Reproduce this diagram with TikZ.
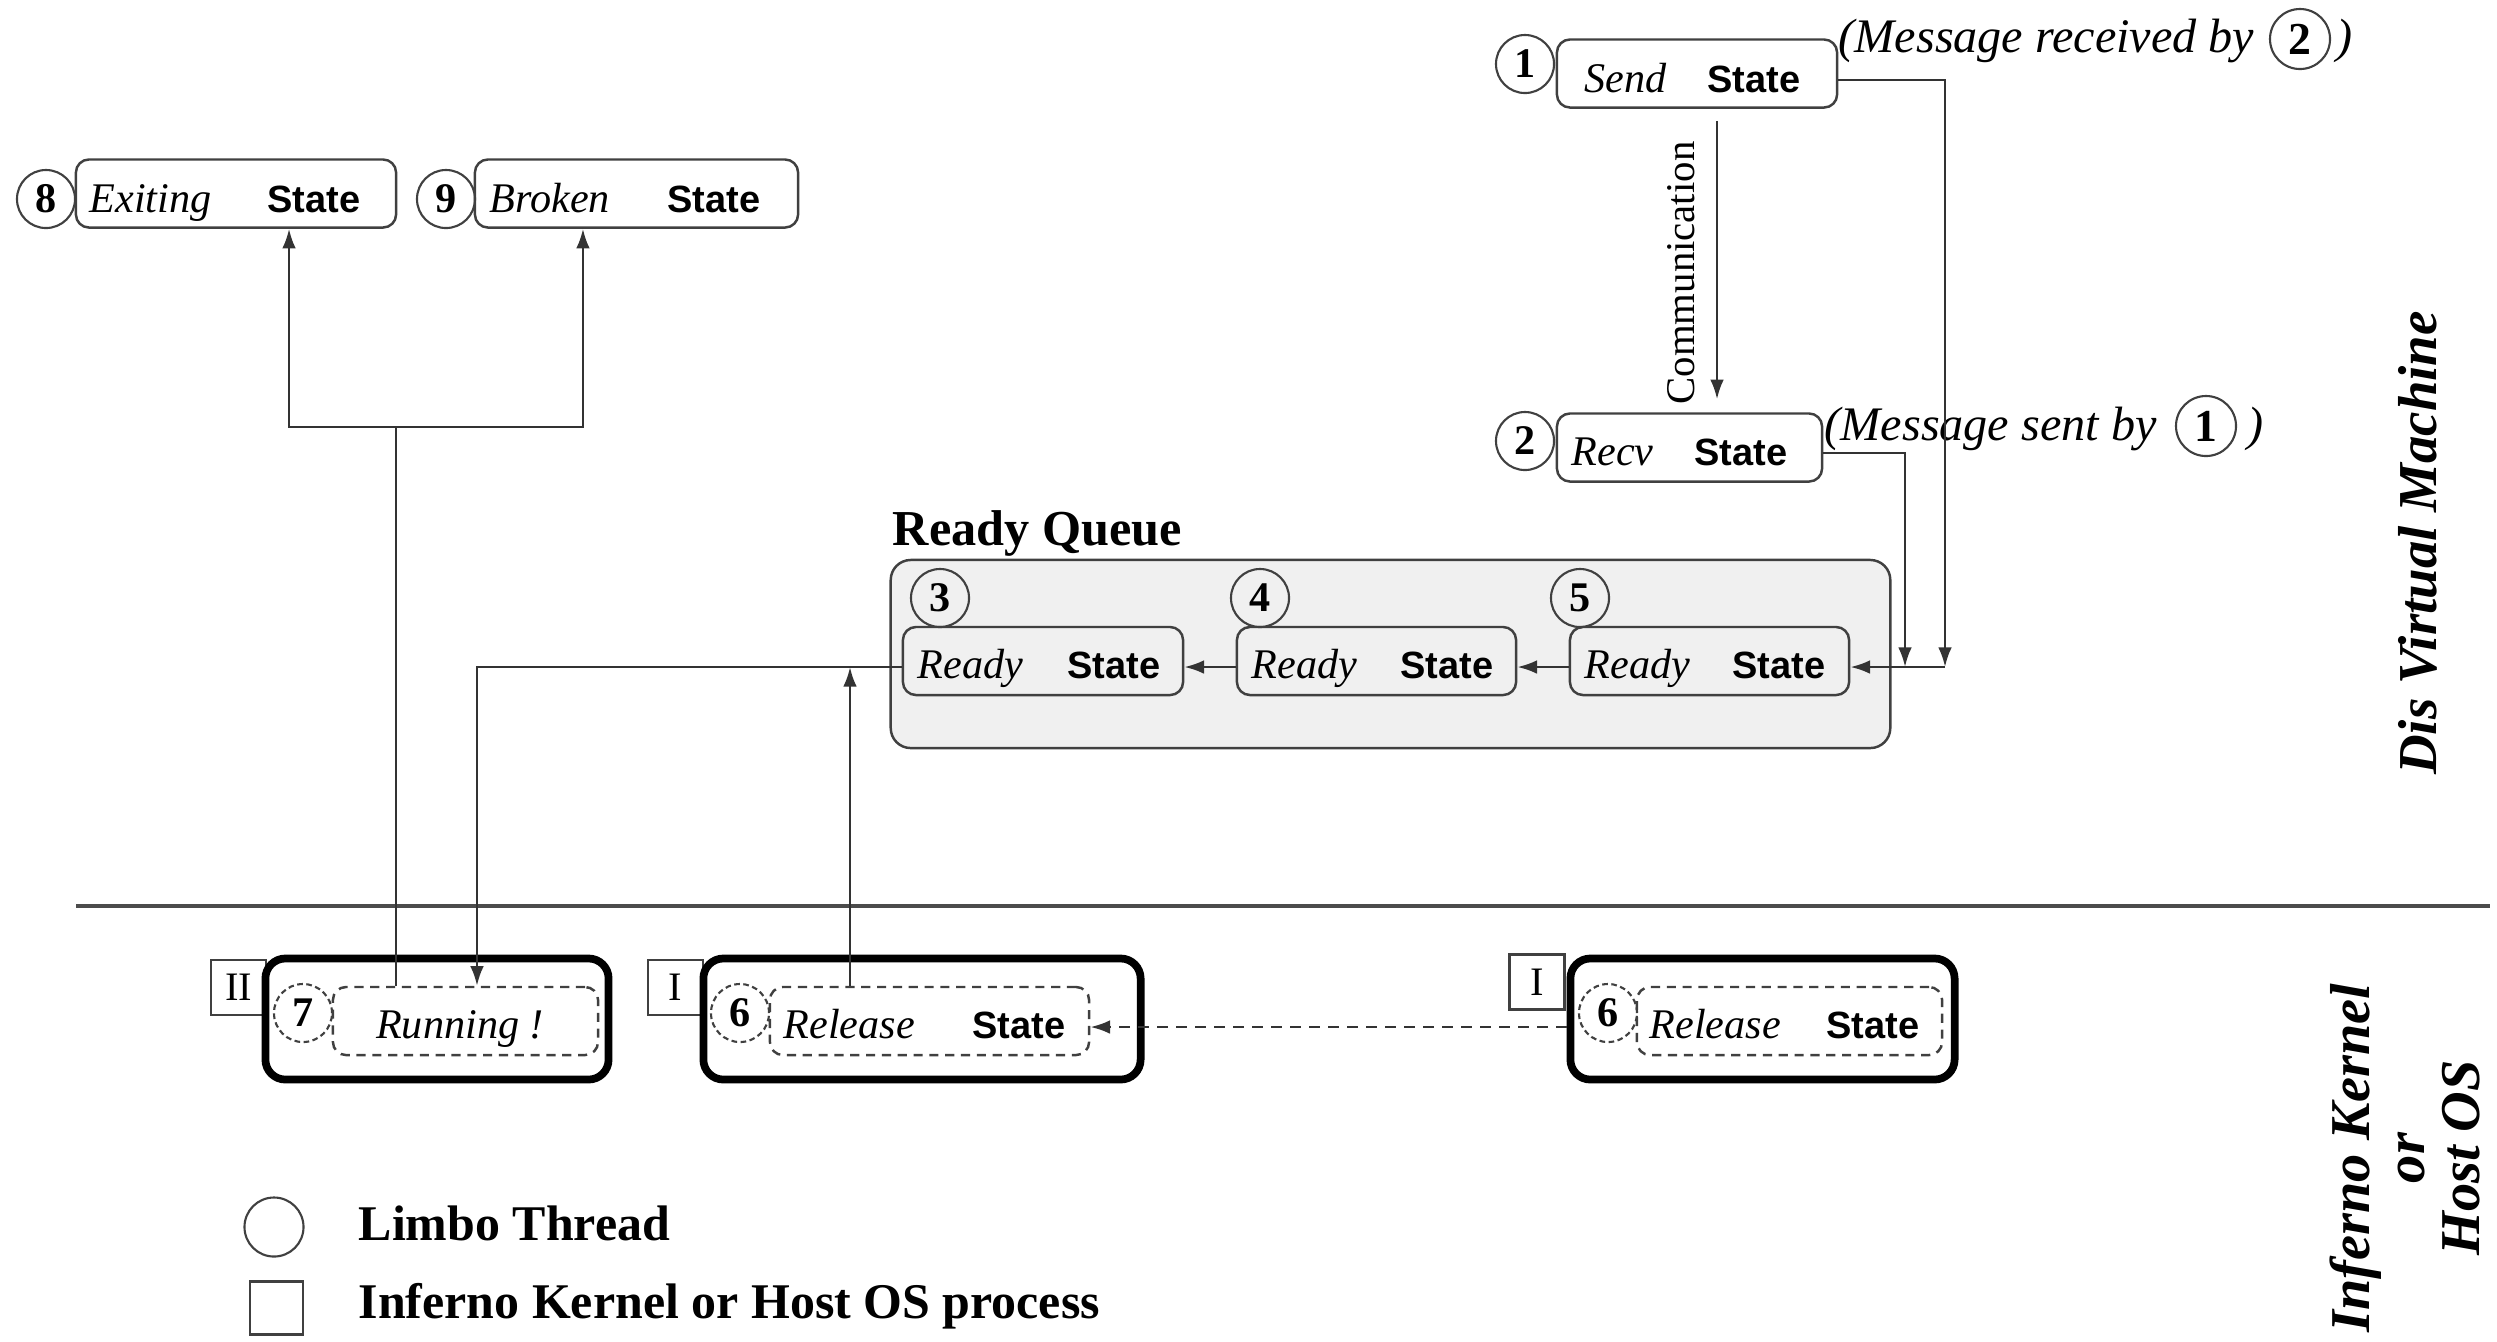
\documentclass[tikz,border=0pt]{standalone}
\usepackage{fontspec}
\setmainfont{Liberation Serif}
\setsansfont{Liberation Sans}
\usetikzlibrary{arrows.meta,calc}

\tikzset{
  ln/.style={draw=black!80, line width=0.75pt},
  arr/.style={ln, -{Latex[length=5.6pt,width=3.9pt]}},
  sbox/.style={draw=black!75, line width=0.7pt, rounded corners=0.13cm,
    minimum height=0.68cm, inner sep=0pt},
  dbox/.style={sbox, dash pattern=on 2.6pt off 1.9pt},
  obox/.style={draw=black, line width=2.2pt, rounded corners=0.2cm,
    minimum height=1.21cm, inner sep=0pt},
  num/.style={draw=black!75, line width=0.6pt, circle, minimum size=0.58cm,
    inner sep=0pt, font=\fontsize{12}{12}\selectfont\bfseries},
  dnum/.style={num, dash pattern=on 1.6pt off 1pt},
  pbox/.style={draw=black!75, line width=0.6pt, minimum size=0.55cm,
    inner sep=0pt, font=\fontsize{11.5}{12}\selectfont},
  wd/.style={font=\fontsize{12}{14}\selectfont\itshape, inner sep=0pt},
  stw/.style={font=\fontsize{10.8}{12}\selectfont\sffamily\bfseries, inner sep=0pt},
  msg/.style={font=\fontsize{13.7}{16}\selectfont\itshape, inner sep=0pt},
  legend/.style={font=\fontsize{14.2}{16}\selectfont\bfseries, inner sep=0pt},
}

\begin{document}
\begin{tikzpicture}[x=0.01cm,y=-0.01cm]
\useasboundingbox (0,0) rectangle (2497,1341);

% boundary between the virtual machine and the kernel layer
\draw[black!70, line width=1.1pt] (76,906) -- (2490,906);

% ready queue container
\node[draw=black!75, line width=0.7pt, fill=black!6, rounded corners=0.2cm,
  minimum width=9.99cm, minimum height=1.88cm, inner sep=0pt] (queue) at (1390.5,654) {};
\node[font=\fontsize{14.3}{16}\selectfont\bfseries, anchor=base west, inner sep=0pt]
  (qtitle) at (892,545) {Ready Queue};

% thread 1: send
\node[sbox, minimum width=2.80cm] (send) at (1697,73.5) {};
\node[num] (n1) at (1525,64) {1};
\node[wd, anchor=base west] (sendw) at (1584,92) {Send};
\node[stw, anchor=base east] (sends) at (1801,92) {State};
\node[msg, anchor=base west] (msg1) at (1838,52) {(Message received by};
\node[num, minimum size=0.6cm, font=\fontsize{13}{13}\selectfont\bfseries] (msg1n) at (2300,39) {2};
\node[msg, anchor=base west] (msg1c) at (2336,52) {)};

% thread 2: recv
\node[sbox, minimum width=2.65cm] (recv) at (1689.5,447.5) {};
\node[num] (n2) at (1525,441) {2};
\node[wd, anchor=base west] (recvw) at (1571,465) {Recv};
\node[stw, anchor=base east] (recvs) at (1788,465) {State};
\node[msg, anchor=base west] (msg2) at (1824,440) {(Message sent by};
\node[num, minimum size=0.6cm, font=\fontsize{13}{13}\selectfont\bfseries] (msg2n) at (2206,426) {1};
\node[msg, anchor=base west] (msg2c) at (2247,440) {)};

% threads 8 and 9
\node[sbox, minimum width=3.20cm] (exiting) at (236,193.5) {};
\node[num] (n8) at (46,199) {8};
\node[wd, anchor=base west] (exitw) at (89,212) {Exiting};
\node[stw, anchor=base east] (exits) at (361,212) {State};
\node[sbox, minimum width=3.23cm] (broken) at (636.5,193.5) {};
\node[num] (n9) at (446,199) {9};
\node[wd, anchor=base west] (brokw) at (489,212) {Broken};
\node[stw, anchor=base east] (broks) at (761,212) {State};

% ready threads 3, 4, 5
\node[sbox, minimum width=2.80cm] (r3) at (1043,661) {};
\node[num] (n3) at (940,598) {3};
\node[wd, anchor=base west] at (917,678) {Ready};
\node[stw, anchor=base east] at (1161,678) {State};
\node[sbox, minimum width=2.79cm] (r4) at (1376.5,661) {};
\node[num] (n4) at (1260,598) {4};
\node[wd, anchor=base west] at (1251,678) {Ready};
\node[stw, anchor=base east] at (1494,678) {State};
\node[sbox, minimum width=2.79cm] (r5) at (1709.5,661) {};
\node[num] (n5) at (1580,598) {5};
\node[wd, anchor=base west] at (1584,678) {Ready};
\node[stw, anchor=base east] at (1826,678) {State};

% kernel process II: running thread 7
\node[pbox] (p2) at (238.5,987.5) {II};
\node[obox, minimum width=3.43cm] (k7) at (437,1019) {};
\node[dbox, minimum width=2.65cm] (run) at (465.5,1021) {};
\node[dnum] (n7) at (303,1013) {7};
\node[wd, anchor=base] (runw) at (460,1038) {Running !};

% kernel process I: releasing thread 6
\node[pbox] (p1a) at (675.5,987.5) {I};
\node[obox, minimum width=4.37cm] (k6a) at (922,1019) {};
\node[dbox, minimum width=3.19cm] (rel) at (929.5,1021) {};
\node[dnum] (n6a) at (740,1013) {6};
\node[wd, anchor=base west] at (783,1038) {Release};
\node[stw, anchor=base east] at (1066,1038) {State};

% kernel process I, earlier
\node[pbox] (p1b) at (1537,982) {I};
\node[obox, minimum width=3.84cm] (k6b) at (1762.5,1019) {};
\node[dbox, minimum width=3.05cm] (relb) at (1789.5,1021) {};
\node[dnum] (n6b) at (1608,1013) {6};
\node[wd, anchor=base west] at (1649,1038) {Release};
\node[stw, anchor=base east] at (1920,1038) {State};

% side labels
\node[rotate=90, font=\fontsize{11.6}{12}\selectfont, inner sep=0pt] (comm) at (1681,273) {Communication};
\node[rotate=90, font=\fontsize{15.6}{16}\selectfont\bfseries\itshape, inner sep=0pt] (dvm) at (2418,543) {Dis Virtual Machine};
\node[rotate=90, align=center, font=\fontsize{16}{15.6}\selectfont\bfseries\itshape, inner sep=0pt]
  (kern) at (2405,1158) {Inferno Kernel\\or\\Host OS};

% legend
\node[draw=black!75, line width=0.6pt, circle, minimum size=0.59cm, inner sep=0pt] (lgc) at (274,1227) {};
\node[legend, anchor=base west] (lgct) at (358,1240) {Limbo Thread};
\node[draw=black!75, line width=0.6pt, minimum size=0.53cm, inner sep=0pt] (lgs) at (276.5,1308) {};
\node[legend, anchor=base west] (lgst) at (358,1318) {Inferno Kernel or Host OS process};

% junction points
\coordinate (jS) at (1945,667);
\coordinate (jR) at (1905,667);
\coordinate (jL) at (477,667);
\coordinate (jU) at (850,667);
\coordinate (jX) at (396,427);

% connectors
\coordinate (cT) at ([xshift=0.2cm,yshift=-0.12cm]send.south);
\draw[arr, shorten >=0.13cm] (cT) -- (cT |- recv.north);
\draw[arr] ([yshift=-0.065cm]send.east) -| (jS);
\draw[arr] ([yshift=-0.055cm]recv.east) -| (jR);
\draw[arr] (jS) -- (r5.east |- jS);
\draw[arr] (r5.west |- jS) -- (r4.east |- jS);
\draw[arr] (r4.west |- jS) -- (r3.east |- jS);
\draw[arr] (r3.west |- jS) -- (jL) -- (jL |- run.north);
\draw[arr] (jU |- rel.north) -- (jU);
\draw[ln] (jX |- run.north) -- (jX);
\draw[arr] (jX) -| ([xshift=0.53cm]exiting.south);
\draw[arr] (jX) -| ([xshift=-0.535cm]broken.south);
\draw[arr, dash pattern=on 3pt off 2.4pt] (k6b.west |- 0,1027) -- (rel.east |- 0,1027);

\end{tikzpicture}
\end{document}
